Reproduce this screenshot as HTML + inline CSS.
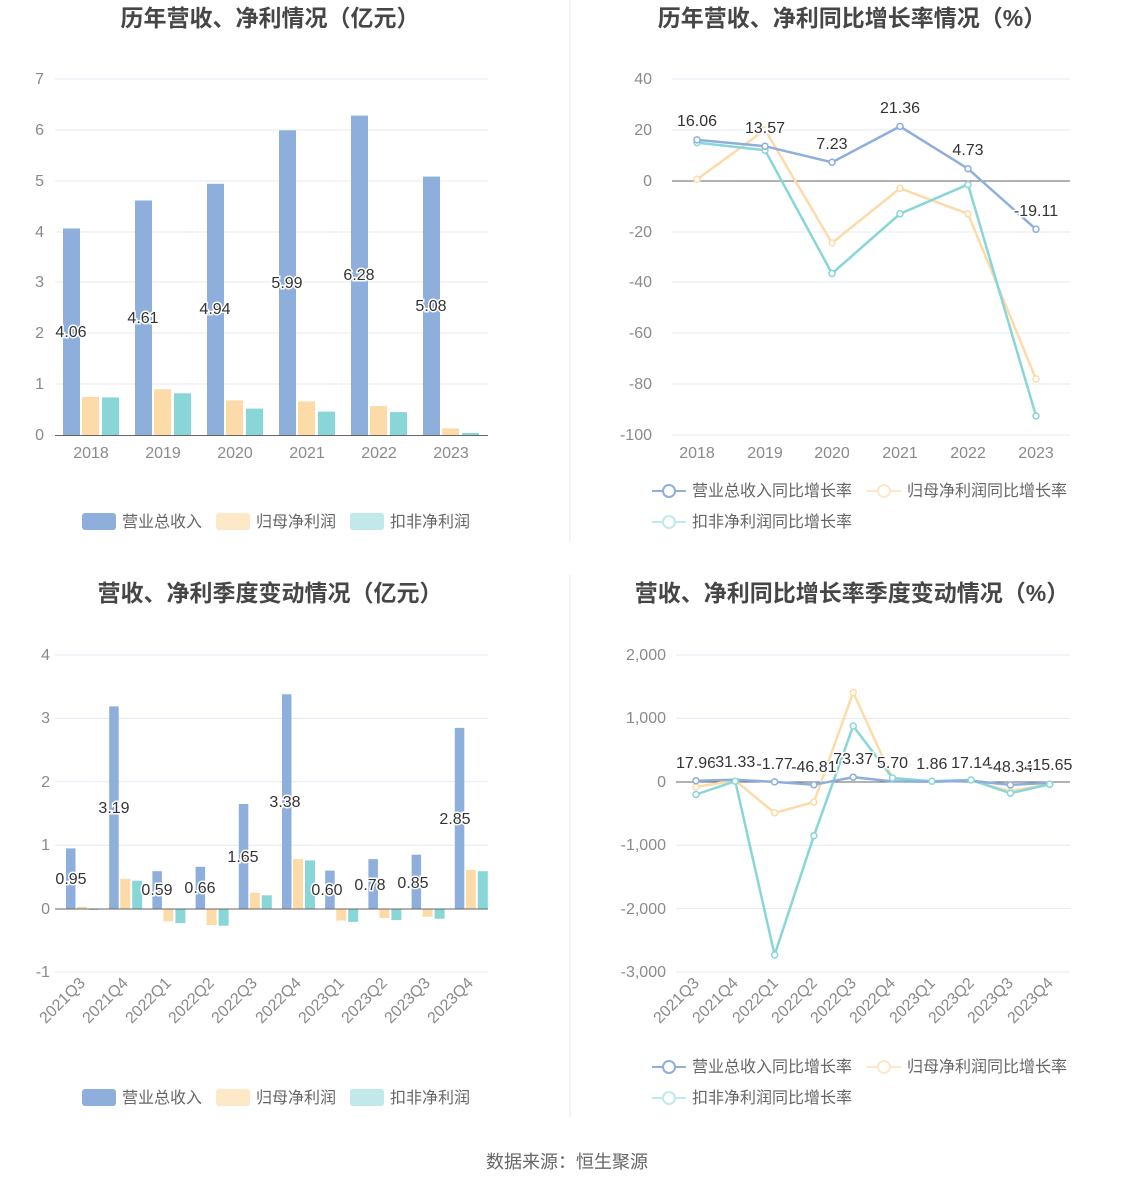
<!DOCTYPE html>
<html><head><meta charset="utf-8"><style>
body{margin:0;background:#fff;}
svg{display:block;font-family:"Liberation Sans","Noto Sans CJK SC",sans-serif;}
.t{font-size:23px;font-weight:bold;fill:#464646;text-anchor:middle}
.ax{font-size:16px;fill:#8a8a8a}
.g{stroke:#e3e8f3;stroke-width:1}
.lb{font-size:16px;fill:#333;text-anchor:middle;paint-order:stroke;stroke:#fff;stroke-width:3px}
.lg{font-size:16px;fill:#666}
</style></head><body>
<svg width="1134" height="1188" viewBox="0 0 1134 1188">
<line x1="570" y1="0" x2="570" y2="542" stroke="#e8e8e8"/>
<line x1="570" y1="575" x2="570" y2="1117" stroke="#e8e8e8"/>
<text class="t" x="270" y="26">历年营收、净利情况（亿元）</text>
<text class="t" x="852" y="26">历年营收、净利同比增长率情况（%）</text>
<text class="t" x="270" y="601">营收、净利季度变动情况（亿元）</text>
<text class="t" x="852" y="601">营收、净利同比增长率季度变动情况（%）</text>

<!-- Chart1 -->
<g class="g">
<line x1="55" x2="488" y1="79" y2="79"/><line x1="55" x2="488" y1="130" y2="130"/><line x1="55" x2="488" y1="181" y2="181"/><line x1="55" x2="488" y1="232" y2="232"/><line x1="55" x2="488" y1="282" y2="282"/><line x1="55" x2="488" y1="333" y2="333"/><line x1="55" x2="488" y1="384" y2="384"/>
</g>
<g class="ax" text-anchor="end">
<text x="44" y="84">7</text><text x="44" y="135">6</text><text x="44" y="186">5</text><text x="44" y="237">4</text><text x="44" y="287">3</text><text x="44" y="338">2</text><text x="44" y="389">1</text><text x="44" y="440">0</text>
</g>
<g fill="#8eaedc">
<rect x="63" y="228.5" width="17" height="206.5"/><rect x="135" y="200.5" width="17" height="234.5"/><rect x="207" y="183.8" width="17" height="251.2"/><rect x="279" y="130.4" width="17" height="304.6"/><rect x="351" y="115.6" width="17" height="319.4"/><rect x="423" y="176.6" width="17" height="258.4"/>
</g>
<g fill="#fddba8">
<rect x="82" y="396.9" width="17" height="38.1"/><rect x="154" y="389.2" width="17" height="45.8"/><rect x="226" y="400.4" width="17" height="34.6"/><rect x="298" y="401.4" width="17" height="33.6"/><rect x="370" y="406" width="17" height="29"/><rect x="442" y="428.4" width="17" height="6.6"/>
</g>
<g fill="#88d6d8">
<rect x="102" y="397.4" width="17" height="37.6"/><rect x="174" y="393.3" width="17" height="41.7"/><rect x="246" y="408.6" width="17" height="26.4"/><rect x="318" y="411.6" width="17" height="23.4"/><rect x="390" y="412.1" width="17" height="22.9"/><rect x="462" y="433" width="17" height="2"/>
</g>
<line x1="55" x2="488" y1="435.5" y2="435.5" stroke="#666"/>
<g class="lb">
<text x="71" y="337">4.06</text><text x="143" y="323">4.61</text><text x="215" y="314">4.94</text><text x="287" y="288">5.99</text><text x="359" y="280">6.28</text><text x="431" y="311">5.08</text>
</g>
<g class="ax" text-anchor="middle">
<text x="91" y="458">2018</text><text x="163" y="458">2019</text><text x="235" y="458">2020</text><text x="307" y="458">2021</text><text x="379" y="458">2022</text><text x="451" y="458">2023</text>
</g>
<rect x="82" y="513" width="34" height="17" rx="3" fill="#8eaedc"/><text class="lg" x="122" y="527">营业总收入</text>
<rect x="216" y="513" width="34" height="17" rx="3" fill="#fde8c8"/><text class="lg" x="256" y="527">归母净利润</text>
<rect x="350" y="513" width="34" height="17" rx="3" fill="#c1e9ea"/><text class="lg" x="390" y="527">扣非净利润</text>

<!-- Chart2 -->
<g class="g">
<line x1="672" x2="1070" y1="79" y2="79"/><line x1="672" x2="1070" y1="130" y2="130"/><line x1="672" x2="1070" y1="232" y2="232"/><line x1="672" x2="1070" y1="282" y2="282"/><line x1="672" x2="1070" y1="333" y2="333"/><line x1="672" x2="1070" y1="384" y2="384"/><line x1="672" x2="1070" y1="435" y2="435"/>
</g>
<line x1="672" x2="1070" y1="181" y2="181" stroke="#666"/>
<g class="ax" text-anchor="end">
<text x="652" y="84">40</text><text x="652" y="135">20</text><text x="652" y="186">0</text><text x="652" y="237">-20</text><text x="652" y="287">-40</text><text x="652" y="338">-60</text><text x="652" y="389">-80</text><text x="652" y="440">-100</text>
</g>
<g fill="none" stroke-width="2.5">
<polyline stroke="#fddba8" points="697,179.4 765,129.8 832,243 900,188.3 968,213.8 1036,379"/>
<polyline stroke="#88d6d8" points="697,142.6 765,150.2 832,273.5 900,213.8 968,184.5 1036,416"/>
<polyline stroke="#8eaedc" points="697,139.9 765,146.2 832,162.3 900,126.4 968,168.7 1036,229.3"/>
</g>
<g fill="#fff" stroke-width="1.5">
<g stroke="#fddba8"><circle cx="697" cy="179.4" r="3"/><circle cx="765" cy="129.8" r="3"/><circle cx="832" cy="243" r="3"/><circle cx="900" cy="188.3" r="3"/><circle cx="968" cy="213.8" r="3"/><circle cx="1036" cy="379" r="3"/></g>
<g stroke="#88d6d8"><circle cx="697" cy="142.6" r="3"/><circle cx="765" cy="150.2" r="3"/><circle cx="832" cy="273.5" r="3"/><circle cx="900" cy="213.8" r="3"/><circle cx="968" cy="184.5" r="3"/><circle cx="1036" cy="416" r="3"/></g>
<g stroke="#8eaedc"><circle cx="697" cy="139.9" r="3"/><circle cx="765" cy="146.2" r="3"/><circle cx="832" cy="162.3" r="3"/><circle cx="900" cy="126.4" r="3"/><circle cx="968" cy="168.7" r="3"/><circle cx="1036" cy="229.3" r="3"/></g>
</g>
<g class="lb">
<text x="697" y="126">16.06</text><text x="765" y="133">13.57</text><text x="832" y="149">7.23</text><text x="900" y="113">21.36</text><text x="968" y="155">4.73</text><text x="1036" y="216">-19.11</text>
</g>
<g class="ax" text-anchor="middle">
<text x="697" y="458">2018</text><text x="765" y="458">2019</text><text x="832" y="458">2020</text><text x="900" y="458">2021</text><text x="968" y="458">2022</text><text x="1036" y="458">2023</text>
</g>
<g fill="#fff" stroke-width="2">
<line x1="652" x2="686" y1="491" y2="491" stroke="#8eaedc"/><circle cx="669" cy="491" r="6" stroke="#8eaedc"/>
<line x1="867" x2="901" y1="491" y2="491" stroke="#fde8c8"/><circle cx="884" cy="491" r="6" stroke="#fde8c8"/>
<line x1="652" x2="686" y1="522" y2="522" stroke="#c1e9ea"/><circle cx="669" cy="522" r="6" stroke="#c1e9ea"/>
</g>
<text class="lg" x="692" y="496">营业总收入同比增长率</text><text class="lg" x="907" y="496">归母净利润同比增长率</text><text class="lg" x="692" y="527">扣非净利润同比增长率</text>

<!-- Chart3 -->
<g class="g">
<line x1="55" x2="488" y1="655" y2="655"/><line x1="55" x2="488" y1="718.4" y2="718.4"/><line x1="55" x2="488" y1="781.8" y2="781.8"/><line x1="55" x2="488" y1="845.2" y2="845.2"/><line x1="55" x2="488" y1="972" y2="972"/>
</g>
<g class="ax" text-anchor="end">
<text x="50" y="660">4</text><text x="50" y="723">3</text><text x="50" y="787">2</text><text x="50" y="850">1</text><text x="50" y="914">0</text><text x="50" y="977">-1</text>
</g>
<g fill="#8eaedc">
<rect x="66" y="848.4" width="9.5" height="60.2"/><rect x="109.2" y="706.4" width="9.5" height="202.2"/><rect x="152.4" y="871.2" width="9.5" height="37.4"/><rect x="195.6" y="866.8" width="9.5" height="41.8"/><rect x="238.8" y="804" width="9.5" height="104.6"/><rect x="282" y="694.3" width="9.5" height="214.3"/><rect x="325.2" y="870.6" width="9.5" height="38"/><rect x="368.4" y="859.1" width="9.5" height="49.5"/><rect x="411.6" y="854.7" width="9.5" height="53.9"/><rect x="454.8" y="727.9" width="9.5" height="180.7"/>
</g>
<g fill="#fddba8">
<rect x="77" y="906.7" width="10" height="1.9"/><rect x="120.2" y="878.8" width="10" height="29.8"/><rect x="163.4" y="908.6" width="10" height="12.7"/><rect x="206.6" y="908.6" width="10" height="16.5"/><rect x="249.8" y="892.7" width="10" height="15.9"/><rect x="293" y="859.1" width="10" height="49.5"/><rect x="336.2" y="908.6" width="10" height="12"/><rect x="379.4" y="908.6" width="10" height="9.5"/><rect x="422.6" y="908.6" width="10" height="8.2"/><rect x="465.8" y="869.9" width="10" height="38.7"/>
</g>
<g fill="#88d6d8">
<rect x="89" y="908.6" width="10" height="1.3"/><rect x="132.2" y="880.7" width="10" height="27.9"/><rect x="175.4" y="908.6" width="10" height="14.6"/><rect x="218.6" y="908.6" width="10" height="17.1"/><rect x="261.8" y="895.3" width="10" height="13.3"/><rect x="305" y="860.4" width="10" height="48.2"/><rect x="348.2" y="908.6" width="10" height="13.3"/><rect x="391.4" y="908.6" width="10" height="11.4"/><rect x="434.6" y="908.6" width="10" height="10.1"/><rect x="477.8" y="871.2" width="10" height="37.4"/>
</g>
<line x1="55" x2="488" y1="909" y2="909" stroke="#666"/>
<g class="lb">
<text x="71" y="884">0.95</text><text x="114" y="813">3.19</text><text x="157" y="895">0.59</text><text x="200" y="893">0.66</text><text x="243" y="862">1.65</text><text x="285" y="807">3.38</text><text x="327" y="895">0.60</text><text x="370" y="890">0.78</text><text x="413" y="888">0.85</text><text x="455" y="824">2.85</text>
</g>
<g class="ax" text-anchor="end">
<text transform="translate(86,984) rotate(-45)">2021Q3</text><text transform="translate(129,984) rotate(-45)">2021Q4</text><text transform="translate(172,984) rotate(-45)">2022Q1</text><text transform="translate(215,984) rotate(-45)">2022Q2</text><text transform="translate(258,984) rotate(-45)">2022Q3</text><text transform="translate(302,984) rotate(-45)">2022Q4</text><text transform="translate(345,984) rotate(-45)">2023Q1</text><text transform="translate(388,984) rotate(-45)">2023Q2</text><text transform="translate(431,984) rotate(-45)">2023Q3</text><text transform="translate(474,984) rotate(-45)">2023Q4</text>
</g>
<rect x="82" y="1089" width="34" height="17" rx="3" fill="#8eaedc"/><text class="lg" x="122" y="1103">营业总收入</text>
<rect x="216" y="1089" width="34" height="17" rx="3" fill="#fde8c8"/><text class="lg" x="256" y="1103">归母净利润</text>
<rect x="350" y="1089" width="34" height="17" rx="3" fill="#c1e9ea"/><text class="lg" x="390" y="1103">扣非净利润</text>

<!-- Chart4 -->
<g class="g">
<line x1="676" x2="1070" y1="655" y2="655"/><line x1="676" x2="1070" y1="718.4" y2="718.4"/><line x1="676" x2="1070" y1="845.2" y2="845.2"/><line x1="676" x2="1070" y1="908.6" y2="908.6"/><line x1="676" x2="1070" y1="972" y2="972"/>
</g>
<line x1="676" x2="1070" y1="782" y2="782" stroke="#666"/>
<g class="ax" text-anchor="end">
<text x="666" y="660">2,000</text><text x="666" y="723">1,000</text><text x="666" y="787">0</text><text x="666" y="850">-1,000</text><text x="666" y="914">-2,000</text><text x="666" y="977">-3,000</text>
</g>
<g fill="none" stroke-width="2.5">
<polyline stroke="#fddba8" points="696,786.9 735.3,780.5 774.6,812.9 813.9,802.1 853.2,692.4 892.5,778.6 931.8,781.8 971.1,780.5 1010.4,791.3 1049.7,783.7"/>
<polyline stroke="#88d6d8" points="696,794.5 735.3,781.2 774.6,954.9 813.9,835.7 853.2,726 892.5,778 931.8,781.2 971.1,779.9 1010.4,793.2 1049.7,784.3"/>
<polyline stroke="#8eaedc" points="696,780.7 735.3,779.8 774.6,781.9 813.9,784.8 853.2,777.2 892.5,781.4 931.8,781.7 971.1,780.7 1010.4,784.9 1049.7,782.8"/>
</g>
<g fill="#fff" stroke-width="1.5">
<g stroke="#fddba8"><circle cx="696" cy="786.9" r="3"/><circle cx="774.6" cy="812.9" r="3"/><circle cx="813.9" cy="802.1" r="3"/><circle cx="853.2" cy="692.4" r="3"/><circle cx="1010.4" cy="791.3" r="3"/></g>
<g stroke="#88d6d8"><circle cx="696" cy="794.5" r="3"/><circle cx="735.3" cy="781.2" r="3"/><circle cx="774.6" cy="954.9" r="3"/><circle cx="813.9" cy="835.7" r="3"/><circle cx="853.2" cy="726" r="3"/><circle cx="892.5" cy="778" r="3"/><circle cx="931.8" cy="781.2" r="3"/><circle cx="971.1" cy="779.9" r="3"/><circle cx="1010.4" cy="793.2" r="3"/><circle cx="1049.7" cy="784.3" r="3"/></g>
<g stroke="#8eaedc"><circle cx="696" cy="780.7" r="3"/><circle cx="774.6" cy="781.9" r="3"/><circle cx="813.9" cy="784.8" r="3"/><circle cx="853.2" cy="777.2" r="3"/><circle cx="1010.4" cy="784.9" r="3"/></g>
</g>
<g class="lb">
<text x="696" y="768">17.96</text><text x="735.3" y="767">31.33</text><text x="774.6" y="769">-1.77</text><text x="813.9" y="772">-46.81</text><text x="853.2" y="764">73.37</text><text x="892.5" y="768">5.70</text><text x="931.8" y="769">1.86</text><text x="971.1" y="768">17.14</text><text x="1010.4" y="772">-48.34</text><text x="1049.7" y="770">-15.65</text>
</g>
<g class="ax" text-anchor="end">
<text transform="translate(700,984) rotate(-45)">2021Q3</text><text transform="translate(739,984) rotate(-45)">2021Q4</text><text transform="translate(779,984) rotate(-45)">2022Q1</text><text transform="translate(818,984) rotate(-45)">2022Q2</text><text transform="translate(857,984) rotate(-45)">2022Q3</text><text transform="translate(896,984) rotate(-45)">2022Q4</text><text transform="translate(936,984) rotate(-45)">2023Q1</text><text transform="translate(975,984) rotate(-45)">2023Q2</text><text transform="translate(1014,984) rotate(-45)">2023Q3</text><text transform="translate(1054,984) rotate(-45)">2023Q4</text>
</g>
<g fill="#fff" stroke-width="2">
<line x1="652" x2="686" y1="1067" y2="1067" stroke="#8eaedc"/><circle cx="669" cy="1067" r="6" stroke="#8eaedc"/>
<line x1="867" x2="901" y1="1067" y2="1067" stroke="#fde8c8"/><circle cx="884" cy="1067" r="6" stroke="#fde8c8"/>
<line x1="652" x2="686" y1="1098" y2="1098" stroke="#c1e9ea"/><circle cx="669" cy="1098" r="6" stroke="#c1e9ea"/>
</g>
<text class="lg" x="692" y="1072">营业总收入同比增长率</text><text class="lg" x="907" y="1072">归母净利润同比增长率</text><text class="lg" x="692" y="1103">扣非净利润同比增长率</text>

<text x="567" y="1168" text-anchor="middle" font-size="18" fill="#666">数据来源：恒生聚源</text>
</svg>
</body></html>
